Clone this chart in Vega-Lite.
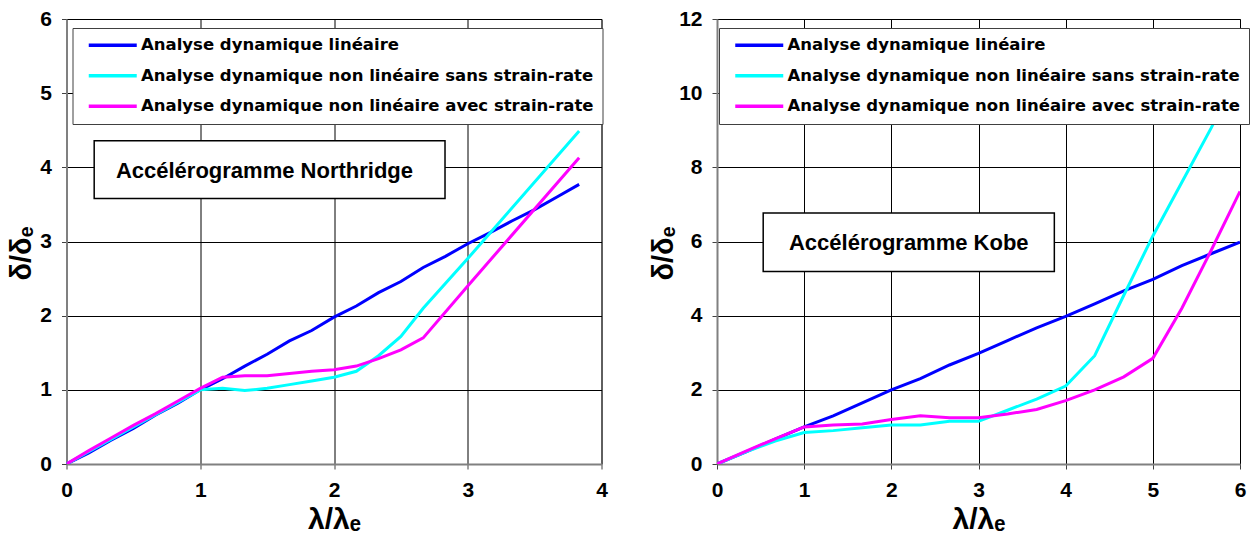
{
  "$schema": "https://vega.github.io/schema/vega-lite/v6.json",
  "background": "white",
  "padding": {"left": 6.5, "top": 7, "right": 0, "bottom": 0},
  "spacing": 39.5,
  "config": {
    "font": "Liberation Sans",
    "view": {"stroke": "#808080", "strokeWidth": 1},
    "axis": {
      "labelFont": "Liberation Sans", "labelFontWeight": "bold", "labelFontSize": 21, "labelColor": "black", "labelFlush": false,
      "titleFont": "Liberation Sans", "titleFontWeight": "bold", "titleFontSize": 29, "titleColor": "black",
      "gridColor": "black", "gridOpacity": 1, "gridWidth": 1,
      "domainColor": "#808080", "domainWidth": 2,
      "tickColor": "#404040", "tickSize": 5, "tickWidth": 1, "format": "d"
    },
    "axisX": {"titleFontSize": 30, "labelPadding": 10, "titlePadding": 4},
    "legend": {
      "title": null, "orient": "none", "direction": "vertical",
      "fillColor": "white", "strokeColor": "#404040", "padding": 9,
      "symbolType": "M-4,0H4", "symbolSize": 144, "symbolStrokeWidth": 3.5, "symbolOffset": 23,
      "labelOffset": 20, "labelFont": "DejaVu Sans", "labelFontWeight": "bold", "labelFontSize": 16.5,
      "labelColor": "black", "labelLimit": 700, "rowPadding": 13.5, "zindex": 1
    }
  },
  "datasets": {
    "curves": [
      {"chart": "Northridge", "series": "Analyse dynamique linéaire", "x": 0, "y": 0},
      {"chart": "Northridge", "series": "Analyse dynamique linéaire", "x": 0.167, "y": 0.15},
      {"chart": "Northridge", "series": "Analyse dynamique linéaire", "x": 0.333, "y": 0.32},
      {"chart": "Northridge", "series": "Analyse dynamique linéaire", "x": 0.5, "y": 0.48},
      {"chart": "Northridge", "series": "Analyse dynamique linéaire", "x": 0.667, "y": 0.66},
      {"chart": "Northridge", "series": "Analyse dynamique linéaire", "x": 0.833, "y": 0.82},
      {"chart": "Northridge", "series": "Analyse dynamique linéaire", "x": 1, "y": 1.0},
      {"chart": "Northridge", "series": "Analyse dynamique linéaire", "x": 1.167, "y": 1.15},
      {"chart": "Northridge", "series": "Analyse dynamique linéaire", "x": 1.333, "y": 1.32},
      {"chart": "Northridge", "series": "Analyse dynamique linéaire", "x": 1.5, "y": 1.48},
      {"chart": "Northridge", "series": "Analyse dynamique linéaire", "x": 1.667, "y": 1.66},
      {"chart": "Northridge", "series": "Analyse dynamique linéaire", "x": 1.833, "y": 1.8},
      {"chart": "Northridge", "series": "Analyse dynamique linéaire", "x": 2, "y": 1.98},
      {"chart": "Northridge", "series": "Analyse dynamique linéaire", "x": 2.167, "y": 2.13},
      {"chart": "Northridge", "series": "Analyse dynamique linéaire", "x": 2.333, "y": 2.31},
      {"chart": "Northridge", "series": "Analyse dynamique linéaire", "x": 2.5, "y": 2.46},
      {"chart": "Northridge", "series": "Analyse dynamique linéaire", "x": 2.667, "y": 2.65},
      {"chart": "Northridge", "series": "Analyse dynamique linéaire", "x": 2.833, "y": 2.8},
      {"chart": "Northridge", "series": "Analyse dynamique linéaire", "x": 3, "y": 2.97},
      {"chart": "Northridge", "series": "Analyse dynamique linéaire", "x": 3.167, "y": 3.12},
      {"chart": "Northridge", "series": "Analyse dynamique linéaire", "x": 3.333, "y": 3.28},
      {"chart": "Northridge", "series": "Analyse dynamique linéaire", "x": 3.5, "y": 3.43},
      {"chart": "Northridge", "series": "Analyse dynamique linéaire", "x": 3.667, "y": 3.6},
      {"chart": "Northridge", "series": "Analyse dynamique linéaire", "x": 3.833, "y": 3.77},
      {"chart": "Northridge", "series": "Analyse dynamique non linéaire sans strain-rate", "x": 0, "y": 0},
      {"chart": "Northridge", "series": "Analyse dynamique non linéaire sans strain-rate", "x": 0.5, "y": 0.5},
      {"chart": "Northridge", "series": "Analyse dynamique non linéaire sans strain-rate", "x": 1, "y": 1.0},
      {"chart": "Northridge", "series": "Analyse dynamique non linéaire sans strain-rate", "x": 1.167, "y": 1.02},
      {"chart": "Northridge", "series": "Analyse dynamique non linéaire sans strain-rate", "x": 1.333, "y": 0.99},
      {"chart": "Northridge", "series": "Analyse dynamique non linéaire sans strain-rate", "x": 1.5, "y": 1.02},
      {"chart": "Northridge", "series": "Analyse dynamique non linéaire sans strain-rate", "x": 1.667, "y": 1.07},
      {"chart": "Northridge", "series": "Analyse dynamique non linéaire sans strain-rate", "x": 1.833, "y": 1.12},
      {"chart": "Northridge", "series": "Analyse dynamique non linéaire sans strain-rate", "x": 2, "y": 1.17},
      {"chart": "Northridge", "series": "Analyse dynamique non linéaire sans strain-rate", "x": 2.167, "y": 1.25},
      {"chart": "Northridge", "series": "Analyse dynamique non linéaire sans strain-rate", "x": 2.333, "y": 1.46},
      {"chart": "Northridge", "series": "Analyse dynamique non linéaire sans strain-rate", "x": 2.5, "y": 1.72},
      {"chart": "Northridge", "series": "Analyse dynamique non linéaire sans strain-rate", "x": 2.667, "y": 2.1},
      {"chart": "Northridge", "series": "Analyse dynamique non linéaire sans strain-rate", "x": 3, "y": 2.77},
      {"chart": "Northridge", "series": "Analyse dynamique non linéaire sans strain-rate", "x": 3.833, "y": 4.49},
      {"chart": "Northridge", "series": "Analyse dynamique non linéaire avec strain-rate", "x": 0, "y": 0},
      {"chart": "Northridge", "series": "Analyse dynamique non linéaire avec strain-rate", "x": 0.167, "y": 0.18},
      {"chart": "Northridge", "series": "Analyse dynamique non linéaire avec strain-rate", "x": 0.333, "y": 0.35},
      {"chart": "Northridge", "series": "Analyse dynamique non linéaire avec strain-rate", "x": 0.5, "y": 0.52},
      {"chart": "Northridge", "series": "Analyse dynamique non linéaire avec strain-rate", "x": 0.667, "y": 0.68},
      {"chart": "Northridge", "series": "Analyse dynamique non linéaire avec strain-rate", "x": 0.833, "y": 0.85},
      {"chart": "Northridge", "series": "Analyse dynamique non linéaire avec strain-rate", "x": 1, "y": 1.02},
      {"chart": "Northridge", "series": "Analyse dynamique non linéaire avec strain-rate", "x": 1.167, "y": 1.17},
      {"chart": "Northridge", "series": "Analyse dynamique non linéaire avec strain-rate", "x": 1.333, "y": 1.19},
      {"chart": "Northridge", "series": "Analyse dynamique non linéaire avec strain-rate", "x": 1.5, "y": 1.19},
      {"chart": "Northridge", "series": "Analyse dynamique non linéaire avec strain-rate", "x": 1.667, "y": 1.22},
      {"chart": "Northridge", "series": "Analyse dynamique non linéaire avec strain-rate", "x": 1.833, "y": 1.25},
      {"chart": "Northridge", "series": "Analyse dynamique non linéaire avec strain-rate", "x": 2, "y": 1.27},
      {"chart": "Northridge", "series": "Analyse dynamique non linéaire avec strain-rate", "x": 2.167, "y": 1.32},
      {"chart": "Northridge", "series": "Analyse dynamique non linéaire avec strain-rate", "x": 2.333, "y": 1.42},
      {"chart": "Northridge", "series": "Analyse dynamique non linéaire avec strain-rate", "x": 2.5, "y": 1.54},
      {"chart": "Northridge", "series": "Analyse dynamique non linéaire avec strain-rate", "x": 2.667, "y": 1.7},
      {"chart": "Northridge", "series": "Analyse dynamique non linéaire avec strain-rate", "x": 3, "y": 2.4},
      {"chart": "Northridge", "series": "Analyse dynamique non linéaire avec strain-rate", "x": 3.833, "y": 4.13},

      {"chart": "Kobe", "series": "Analyse dynamique linéaire", "x": 0, "y": 0},
      {"chart": "Kobe", "series": "Analyse dynamique linéaire", "x": 0.333, "y": 0.33},
      {"chart": "Kobe", "series": "Analyse dynamique linéaire", "x": 0.667, "y": 0.67},
      {"chart": "Kobe", "series": "Analyse dynamique linéaire", "x": 1, "y": 1.0},
      {"chart": "Kobe", "series": "Analyse dynamique linéaire", "x": 1.333, "y": 1.3},
      {"chart": "Kobe", "series": "Analyse dynamique linéaire", "x": 1.667, "y": 1.65},
      {"chart": "Kobe", "series": "Analyse dynamique linéaire", "x": 2, "y": 2.0},
      {"chart": "Kobe", "series": "Analyse dynamique linéaire", "x": 2.333, "y": 2.3},
      {"chart": "Kobe", "series": "Analyse dynamique linéaire", "x": 2.667, "y": 2.67},
      {"chart": "Kobe", "series": "Analyse dynamique linéaire", "x": 3, "y": 2.98},
      {"chart": "Kobe", "series": "Analyse dynamique linéaire", "x": 3.333, "y": 3.33},
      {"chart": "Kobe", "series": "Analyse dynamique linéaire", "x": 3.667, "y": 3.67},
      {"chart": "Kobe", "series": "Analyse dynamique linéaire", "x": 4, "y": 3.98},
      {"chart": "Kobe", "series": "Analyse dynamique linéaire", "x": 4.333, "y": 4.32},
      {"chart": "Kobe", "series": "Analyse dynamique linéaire", "x": 4.667, "y": 4.67},
      {"chart": "Kobe", "series": "Analyse dynamique linéaire", "x": 5, "y": 4.98},
      {"chart": "Kobe", "series": "Analyse dynamique linéaire", "x": 5.333, "y": 5.35},
      {"chart": "Kobe", "series": "Analyse dynamique linéaire", "x": 5.667, "y": 5.67},
      {"chart": "Kobe", "series": "Analyse dynamique linéaire", "x": 6, "y": 5.98},
      {"chart": "Kobe", "series": "Analyse dynamique non linéaire sans strain-rate", "x": 0, "y": 0},
      {"chart": "Kobe", "series": "Analyse dynamique non linéaire sans strain-rate", "x": 0.333, "y": 0.33},
      {"chart": "Kobe", "series": "Analyse dynamique non linéaire sans strain-rate", "x": 0.667, "y": 0.62},
      {"chart": "Kobe", "series": "Analyse dynamique non linéaire sans strain-rate", "x": 1, "y": 0.85},
      {"chart": "Kobe", "series": "Analyse dynamique non linéaire sans strain-rate", "x": 1.333, "y": 0.9},
      {"chart": "Kobe", "series": "Analyse dynamique non linéaire sans strain-rate", "x": 1.667, "y": 0.98},
      {"chart": "Kobe", "series": "Analyse dynamique non linéaire sans strain-rate", "x": 2, "y": 1.05},
      {"chart": "Kobe", "series": "Analyse dynamique non linéaire sans strain-rate", "x": 2.333, "y": 1.05},
      {"chart": "Kobe", "series": "Analyse dynamique non linéaire sans strain-rate", "x": 2.667, "y": 1.15},
      {"chart": "Kobe", "series": "Analyse dynamique non linéaire sans strain-rate", "x": 3, "y": 1.15},
      {"chart": "Kobe", "series": "Analyse dynamique non linéaire sans strain-rate", "x": 3.333, "y": 1.45},
      {"chart": "Kobe", "series": "Analyse dynamique non linéaire sans strain-rate", "x": 3.667, "y": 1.75},
      {"chart": "Kobe", "series": "Analyse dynamique non linéaire sans strain-rate", "x": 4, "y": 2.1},
      {"chart": "Kobe", "series": "Analyse dynamique non linéaire sans strain-rate", "x": 4.333, "y": 2.92},
      {"chart": "Kobe", "series": "Analyse dynamique non linéaire sans strain-rate", "x": 4.667, "y": 4.55},
      {"chart": "Kobe", "series": "Analyse dynamique non linéaire sans strain-rate", "x": 5, "y": 6.15},
      {"chart": "Kobe", "series": "Analyse dynamique non linéaire sans strain-rate", "x": 5.333, "y": 7.6},
      {"chart": "Kobe", "series": "Analyse dynamique non linéaire sans strain-rate", "x": 5.667, "y": 9.05},
      {"chart": "Kobe", "series": "Analyse dynamique non linéaire sans strain-rate", "x": 6, "y": 10.6},
      {"chart": "Kobe", "series": "Analyse dynamique non linéaire avec strain-rate", "x": 0, "y": 0},
      {"chart": "Kobe", "series": "Analyse dynamique non linéaire avec strain-rate", "x": 0.333, "y": 0.35},
      {"chart": "Kobe", "series": "Analyse dynamique non linéaire avec strain-rate", "x": 0.667, "y": 0.68},
      {"chart": "Kobe", "series": "Analyse dynamique non linéaire avec strain-rate", "x": 1, "y": 1.0},
      {"chart": "Kobe", "series": "Analyse dynamique non linéaire avec strain-rate", "x": 1.333, "y": 1.05},
      {"chart": "Kobe", "series": "Analyse dynamique non linéaire avec strain-rate", "x": 1.667, "y": 1.08},
      {"chart": "Kobe", "series": "Analyse dynamique non linéaire avec strain-rate", "x": 2, "y": 1.2},
      {"chart": "Kobe", "series": "Analyse dynamique non linéaire avec strain-rate", "x": 2.333, "y": 1.3},
      {"chart": "Kobe", "series": "Analyse dynamique non linéaire avec strain-rate", "x": 2.667, "y": 1.25},
      {"chart": "Kobe", "series": "Analyse dynamique non linéaire avec strain-rate", "x": 3, "y": 1.25},
      {"chart": "Kobe", "series": "Analyse dynamique non linéaire avec strain-rate", "x": 3.333, "y": 1.35},
      {"chart": "Kobe", "series": "Analyse dynamique non linéaire avec strain-rate", "x": 3.667, "y": 1.47},
      {"chart": "Kobe", "series": "Analyse dynamique non linéaire avec strain-rate", "x": 4, "y": 1.71},
      {"chart": "Kobe", "series": "Analyse dynamique non linéaire avec strain-rate", "x": 4.333, "y": 2.0},
      {"chart": "Kobe", "series": "Analyse dynamique non linéaire avec strain-rate", "x": 4.667, "y": 2.35},
      {"chart": "Kobe", "series": "Analyse dynamique non linéaire avec strain-rate", "x": 5, "y": 2.85},
      {"chart": "Kobe", "series": "Analyse dynamique non linéaire avec strain-rate", "x": 5.333, "y": 4.2},
      {"chart": "Kobe", "series": "Analyse dynamique non linéaire avec strain-rate", "x": 5.667, "y": 5.75},
      {"chart": "Kobe", "series": "Analyse dynamique non linéaire avec strain-rate", "x": 6, "y": 7.35}
    ]
  },
  "resolve": {"scale": {"color": "independent"}, "legend": {"color": "independent"}},
  "hconcat": [
    {
      "width": 535,
      "height": 445,
      "layer": [
        {
          "data": {"name": "curves"},
          "transform": [{"filter": "datum.chart === 'Northridge'"}],
          "mark": {"type": "line", "strokeWidth": 3, "clip": true},
          "encoding": {
            "x": {"field": "x", "type": "quantitative", "scale": {"domain": [0, 4], "nice": false},
                  "axis": {"title": "λ/λₑ", "values": [0, 1, 2, 3, 4]}},
            "y": {"field": "y", "type": "quantitative", "scale": {"domain": [0, 6], "nice": false},
                  "axis": {"title": "δ/δₑ", "values": [0, 1, 2, 3, 4, 5, 6], "labelPadding": 10,
                           "titleX": -45, "titleY": 234, "titleAngle": -90, "titleAlign": "center", "titleBaseline": "middle"}},
            "color": {"field": "series", "type": "nominal",
                      "scale": {"domain": ["Analyse dynamique linéaire", "Analyse dynamique non linéaire sans strain-rate", "Analyse dynamique non linéaire avec strain-rate"],
                                "range": ["#0000FF", "#00FFFF", "#FF00FF"]},
                      "legend": {"legendX": 6, "legendY": 9}}
          }
        },
        {
          "data": {"values": [{}]},
          "mark": {"type": "rect", "fill": "white", "stroke": "black", "strokeWidth": 1.5},
          "encoding": {
            "x": {"datum": 0.207, "type": "quantitative"}, "x2": {"datum": 2.83},
            "y": {"datum": 4.36, "type": "quantitative"}, "y2": {"datum": 3.58}
          }
        },
        {
          "data": {"values": [{}]},
          "mark": {"type": "text", "font": "Liberation Sans", "fontWeight": "bold", "fontSize": 22, "color": "black"},
          "encoding": {
            "x": {"datum": 1.48, "type": "quantitative"},
            "y": {"datum": 3.95, "type": "quantitative"},
            "text": {"value": "Accélérogramme Northridge"}
          }
        }
      ]
    },
    {
      "width": 523,
      "height": 445,
      "layer": [
        {
          "data": {"name": "curves"},
          "transform": [{"filter": "datum.chart === 'Kobe'"}],
          "mark": {"type": "line", "strokeWidth": 3, "clip": true},
          "encoding": {
            "x": {"field": "x", "type": "quantitative", "scale": {"domain": [0, 6], "nice": false},
                  "axis": {"title": "λ/λₑ", "values": [0, 1, 2, 3, 4, 5, 6]}},
            "y": {"field": "y", "type": "quantitative", "scale": {"domain": [0, 12], "nice": false},
                  "axis": {"title": "δ/δₑ", "values": [0, 2, 4, 6, 8, 10, 12], "labelPadding": 10,
                           "titleX": -54, "titleY": 234, "titleAngle": -90, "titleAlign": "center", "titleBaseline": "middle"}},
            "color": {"field": "series", "type": "nominal",
                      "scale": {"domain": ["Analyse dynamique linéaire", "Analyse dynamique non linéaire sans strain-rate", "Analyse dynamique non linéaire avec strain-rate"],
                                "range": ["#0000FF", "#00FFFF", "#FF00FF"]},
                      "legend": {"legendX": 2, "legendY": 9}}
          }
        },
        {
          "data": {"values": [{}]},
          "mark": {"type": "rect", "fill": "white", "stroke": "black", "strokeWidth": 1.5},
          "encoding": {
            "x": {"datum": 0.53, "type": "quantitative"}, "x2": {"datum": 3.87},
            "y": {"datum": 6.77, "type": "quantitative"}, "y2": {"datum": 5.19}
          }
        },
        {
          "data": {"values": [{}]},
          "mark": {"type": "text", "font": "Liberation Sans", "fontWeight": "bold", "fontSize": 22, "color": "black"},
          "encoding": {
            "x": {"datum": 2.2, "type": "quantitative"},
            "y": {"datum": 5.95, "type": "quantitative"},
            "text": {"value": "Accélérogramme Kobe"}
          }
        }
      ]
    }
  ]
}
